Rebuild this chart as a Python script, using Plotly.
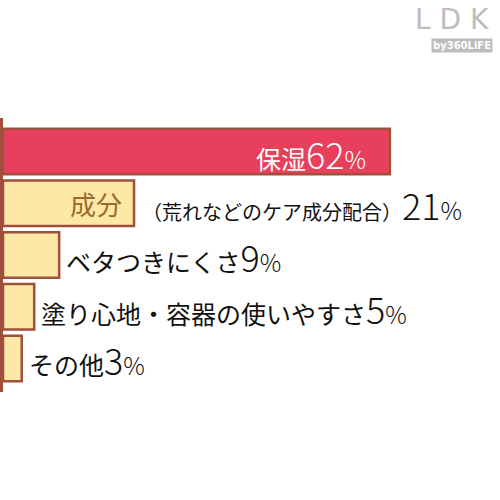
import plotly.graph_objects as go

# データ
items = ['保湿', '成分', 'ベタつきにくさ', '塗り心地・容器の使いやすさ', 'その他']
notes = ['', '（荒れなどのケア成分配合）', '', '', '']
values = [62, 21, 9, 5, 3]

red = '#E8405C'
yellow = '#FDE8A8'
brown = '#A0503A'
font = 'Noto Sans CJK JP'

fig = go.Figure(
    data=go.Bar(
        x=values,
        y=items,
        orientation='h',
        marker=dict(
            color=[red] + [yellow] * 4,
            line=dict(color=brown, width=2.5)
        ),
        width=0.88,
        hoverinfo='skip'
    )
)

# ラベル
for i, (item, note, v) in enumerate(zip(items, notes, values)):
    pct = (f'<span style="font-size:36px;font-weight:300">{v}</span>'
           f'<span style="font-size:24px;font-weight:300">%</span>')
    if i == 0:
        fig.add_annotation(
            x=v, y=item, xanchor='right', xshift=-22, yshift=-1,
            text=f'<span style="font-size:25px">{item}</span>{pct}',
            showarrow=False, font=dict(color='white', family=font)
        )
    elif note:
        fig.add_annotation(
            x=v, y=item, xanchor='right', xshift=-10, yshift=0,
            text=item, showarrow=False,
            font=dict(color='#9A6A2A', family=font, size=26)
        )
        fig.add_annotation(
            x=v, y=item, xanchor='left', xshift=6, yshift=-1,
            text=f'<span style="font-size:20px">{note}</span>{pct}',
            showarrow=False, font=dict(color='#111111', family=font)
        )
    else:
        fig.add_annotation(
            x=v, y=item, xanchor='left', xshift=5, yshift=-1,
            text=f'<span style="font-size:25px">{item}</span>{pct}',
            showarrow=False, font=dict(color='#111111', family=font)
        )

# ロゴ
fig.add_annotation(
    x=0.982, y=1.358, xref='paper', yref='paper', xanchor='right', yanchor='middle',
    text='L D K', showarrow=False,
    font=dict(color='#BDBDBD', family='DejaVu Sans', size=28)
)
fig.add_annotation(
    x=0.9235, y=1.264, xref='paper', yref='paper', xanchor='center', yanchor='middle',
    text='<b>by360LiFE</b>', showarrow=False, bgcolor='#BDBDBD', borderpad=1,
    font=dict(color='white', family='DejaVu Sans', size=10)
)

fig.update_layout(
    width=500,
    height=500,
    margin=dict(l=3, r=0, t=118, b=108, autoexpand=False),
    plot_bgcolor='white',
    paper_bgcolor='white',
    showlegend=False,
    xaxis=dict(range=[0, 497 / 6.24], visible=False, fixedrange=True),
    yaxis=dict(
        autorange=False, range=[4.65, -0.65],
        showticklabels=False, showgrid=False, zeroline=False,
        showline=True, linecolor=brown, linewidth=3, ticks=''
    )
)

fig.write_html('out.html', config=dict(displayModeBar=False),
               post_script="document.body.style.margin='0';")
